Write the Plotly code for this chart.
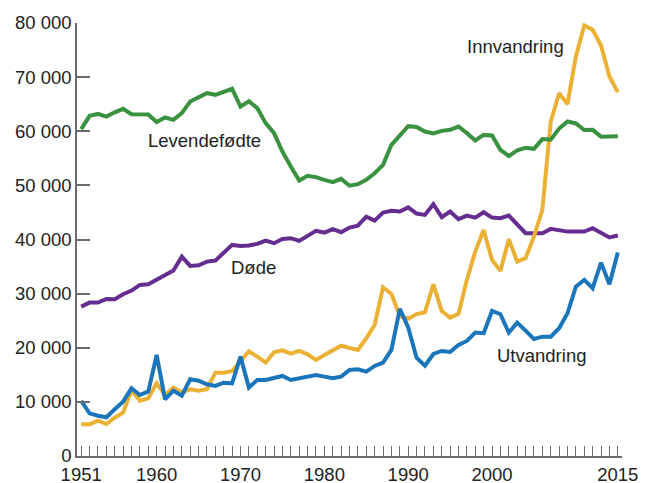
import plotly.graph_objects as go

# Befolkningsendringer i Norge, 1951-2015
years = list(range(1951, 2016))

levendefodte = [
    60400, 62850, 63200, 62700, 63500, 64140, 63150, 63100, 63100, 61700,
    62540, 62100, 63340, 65500, 66230, 67040, 66730, 67340, 67840, 64550,
    65550, 64270, 61500, 59650, 56250, 53480, 50900, 51760, 51520, 51020,
    50590, 51200, 49940, 50220, 51020, 52250, 53790, 57490, 59150, 60940,
    60800, 59950, 59580, 60070, 60260, 60870, 59650, 58290, 59330, 59230,
    56560, 55430, 56460, 56950, 56760, 58550, 58460, 60500, 61810, 61440,
    60220, 60260, 59000, 59080, 59060,
]

dode = [
    27600, 28340, 28340, 29020, 28960, 29880, 30560, 31610, 31730, 32530,
    33330, 34250, 36840, 35120, 35240, 35920, 36100, 37580, 39000, 38820,
    38900, 39190, 39800, 39320, 40110, 40240, 39740, 40670, 41590, 41280,
    41900, 41340, 42200, 42570, 44230, 43490, 44970, 45290, 45160, 45940,
    44800, 44550, 46520, 44120, 45160, 43750, 44420, 44050, 45040, 44050,
    43930, 44420, 42700, 41160, 41160, 41160, 41960, 41770, 41460, 41460,
    41460, 42080, 41160, 40390, 40730,
]

innvandring = [
    5860, 5860, 6530, 5910, 7080, 8000, 12200, 10220, 10660, 13430,
    11280, 12630, 11770, 12330, 12070, 12330, 15400, 15400, 15710, 17430,
    19350, 18360, 17250, 19170, 19530, 18910, 19410, 18790, 17740, 18670,
    19590, 20390, 19960, 19590, 21750, 24210, 31180, 29940, 25900, 25360,
    26220, 26560, 31730, 26800, 25560, 26250, 32530, 37770, 41770, 36230,
    34200, 40050, 35920, 36540, 40540, 45470, 61800, 67040, 65000, 73810,
    79540, 78740, 75840, 70110, 67220,
]

utvandring = [
    10170, 7890, 7450, 7150, 8630, 10040, 12510, 11280, 11890, 18670,
    10480, 12070, 11150, 14180, 13920, 13250, 12940, 13550, 13430, 18360,
    12660, 14050, 14050, 14360, 14790, 14050, 14360, 14790, 14970, 14660,
    14360, 14660, 15900, 16020, 15590, 16640, 17250, 19590, 27200, 23750,
    18150, 16690, 18850, 19410, 19220, 20520, 21260, 22800, 22680, 26800,
    26190, 22800, 24640, 23160, 21630, 22050, 22050, 23600, 26370, 31300,
    32530, 31000, 35730, 31730, 37580,
]

x_tickvals = [1951, 1960, 1970, 1980, 1990, 2000, 2015]
y_tickvals = [0, 10000, 20000, 30000, 40000, 50000, 60000, 70000, 80000]
y_ticktext = ["0", "10 000", "20 000", "30 000", "40 000",
              "50 000", "60 000", "70 000", "80 000"]

FONT = "Liberation Sans, Arial, sans-serif"
TEXT = "#222222"
AXIS = "#6b6b6b"
FS = 18.5

series = [
    ("Døde", dode, "#662d91"),
    ("Innvandring", innvandring, "#ebb135"),
    ("Levendefødte", levendefodte, "#3a9140"),
    ("Utvandring", utvandring, "#1b75bb"),
]

fig = go.Figure()
for name, values, colour in series:
    fig.add_trace(go.Scatter(
        x=years, y=values, mode="lines", name=name,
        line=dict(color=colour, width=4),
    ))

# labels placed next to each line instead of a legend
labels = [
    ("Levendefødte", 1965.7, 58200),
    ("Døde", 1971.6, 34750),
    ("Innvandring", 2002.85, 75650),
    ("Utvandring", 2005.9, 18550),
]
for text, lx, ly in labels:
    fig.add_annotation(x=lx, y=ly, text=text, showarrow=False,
                       font=dict(family=FONT, size=FS, color=TEXT))

# the page body adds an 8px margin, so the figure is 8px smaller each way
fig.update_layout(
    width=641, height=475,
    margin=dict(l=69, r=27, t=15, b=27),
    paper_bgcolor="white", plot_bgcolor="white",
    showlegend=False,
    font=dict(family=FONT, size=FS, color=TEXT),
)
fig.update_xaxes(
    range=[1950.5, 2015.5],
    tickvals=x_tickvals,
    ticks="inside", ticklen=10, tickcolor=AXIS, tickwidth=1,
    minor=dict(dtick=1, ticks="inside", ticklen=10, tickcolor=AXIS, tickwidth=1),
    showline=True, linecolor=AXIS, linewidth=1.5,
    showgrid=False, zeroline=False, automargin=False,
    ticklabelstandoff=1,
    tickfont=dict(family=FONT, size=FS, color=TEXT),
)
fig.update_yaxes(
    range=[0, 80000],
    tickvals=y_tickvals, ticktext=y_ticktext,
    ticks="inside", ticklen=13, tickcolor=AXIS, tickwidth=1.5,
    showline=True, linecolor=AXIS, linewidth=1.5,
    showgrid=False, zeroline=False, automargin=False,
    tickfont=dict(family=FONT, size=FS, color=TEXT),
)

fig.write_html("out.html")
